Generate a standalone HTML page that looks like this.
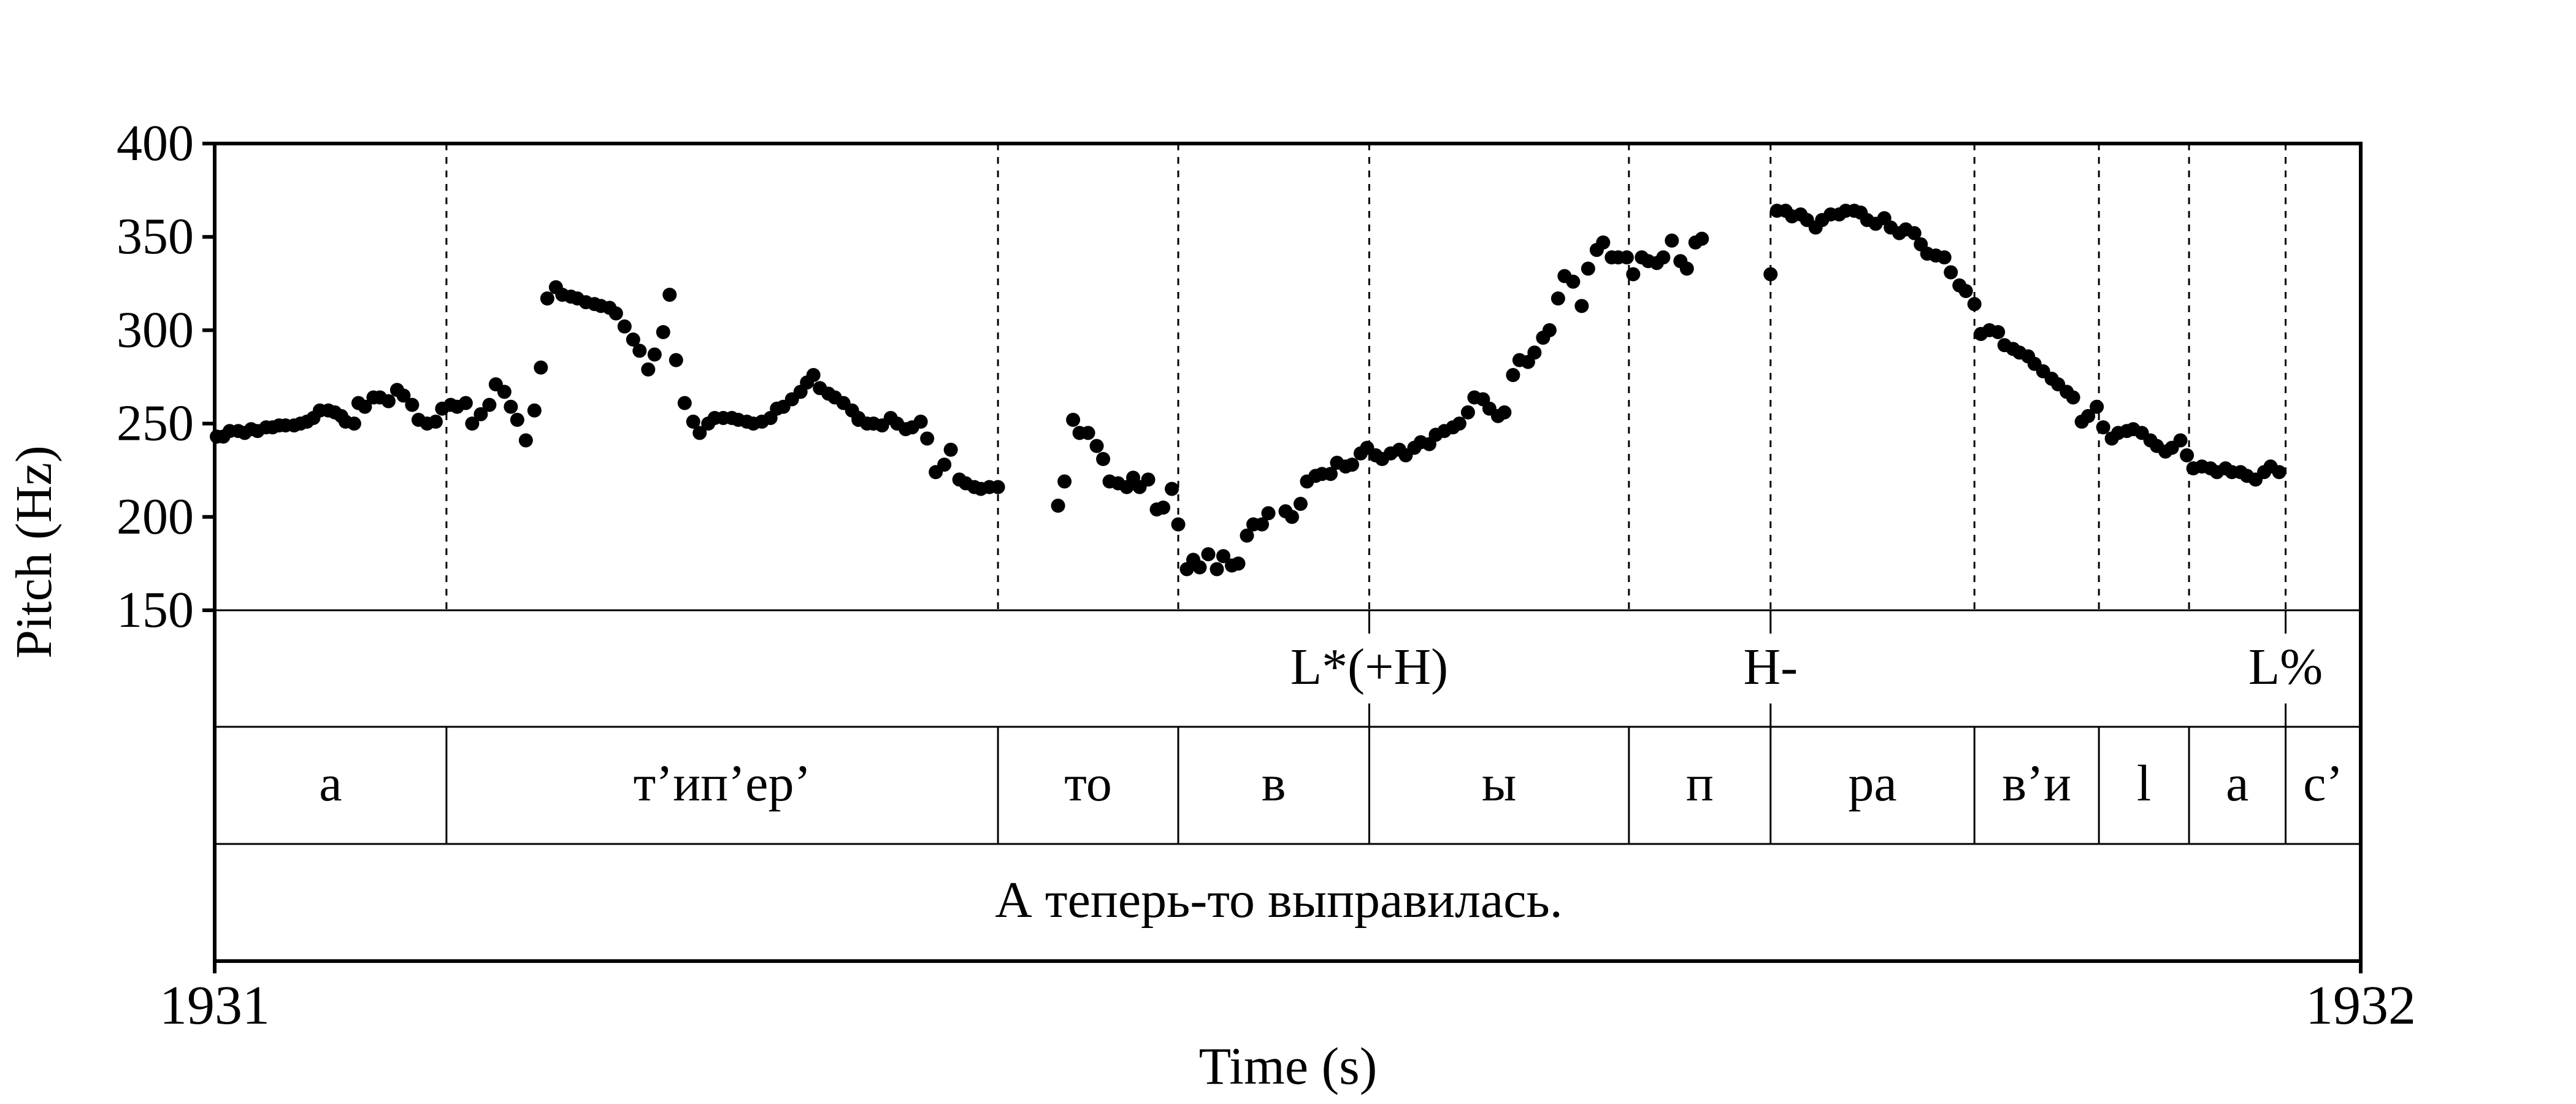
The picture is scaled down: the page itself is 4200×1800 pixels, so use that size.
<!DOCTYPE html>
<html><head><meta charset="utf-8">
<style>
html,body{margin:0;padding:0;background:#fff;}
svg{display:block;}
text{font-family:"Liberation Serif","Noto Serif CJK SC",serif;fill:#000;}
</style></head>
<body>
<svg id="chart" width="4200" height="1800" viewBox="0 0 4200 1800" xmlns="http://www.w3.org/2000/svg">
<rect x="0" y="0" width="4200" height="1800" fill="#fff"/>
</svg>
<script>
// pitch samples: time (ms after 1931 s) and Hz
const times = [1,4,7,11,14,17,20,24,27,30,33,37,40,43,46,49,53,56,59,61,65,67,70,74,77,81,85,88,92,95,99,103,106,110,113,117,120,124,128,131,135,138,141,145,149,152,155,159,162,166,169,173,177,180,184,187,191,195,198,202,205,209,212,215,219,223,226,230,233,237,241,244,248,251,255,259,262,265,269,273,276,279,282,286,289,293,297,300,
300,304,307,311,315,318,322,325,329,332,336,340,343,347,350,354,357,361,365,
393,396,400,403,407,411,414,417,421,425,428,431,435,439,442,446,449,453,456,459,463,467,470,474,477,481,484,488,491,499,502,506,509,513,516,520,523,527,530,534,537,541,544,548,552,555,559,562,566,569,573,577,580,584,587,591,594,598,601,605,608,612,615,619,622,626,629,633,637,640,644,647,651,654,658,661,665,668,672,675,679,683,686,690,693,
725,728,732,735,739,742,746,749,753,757,760,764,767,770,774,778,781,785,788,792,795,798,802,806,809,813,816,820,823,827,831,834,838,841,845,848,852,856,859,863,866,870,873,877,880,884,887,891,894,898,902,905,909,912,916,919,922,926,930,933,937,940,944,947,951,955,958,962];
const pitches = [243,243,246,246,245,247,246,248,248,249,249,249,250,251,253,257,257,256,254,251,250,261,259,264,264,262,268,265,260,252,250,251,258,260,259,261,250,255,260,271,267,259,252,241,257,280,317,323,319,318,317,315,314,313,312,309,302,295,289,279,287,299,319,284,261,251,245,250,253,253,253,252,251,250,251,253,258,259,263,267,272,276,269,266,264,261,257,252,
253,250,250,249,253,250,247,248,251,242,224,228,236,220,218,216,215,216,216,
206,219,252,245,245,238,231,219,218,216,221,216,220,204,205,215,196,172,177,173,180,172,179,174,175,190,196,196,202,203,200,207,219,222,223,223,229,227,228,234,237,233,231,234,236,233,237,240,239,244,246,248,250,256,264,263,258,254,256,276,284,283,288,296,300,317,329,326,313,333,343,347,339,339,339,330,339,337,336,339,348,337,333,347,349,
330,364,364,361,362,359,355,359,362,362,364,364,363,359,357,360,355,352,354,352,346,341,340,339,331,324,321,314,298,300,299,292,290,288,286,282,278,274,271,267,264,251,254,259,248,242,245,246,247,245,241,238,235,237,241,233,226,227,226,224,226,224,224,222,220,224,227,224];
const yTicks = [150,200,250,300,350,400];
const xTickLabels = ["1931","1932"];
const boundaries = [108,365,449,538,659,725,820,878,920,965];
const segLabels = ["а","т’ип’ер’","то","в","ы","п","ра","в’и","l","а","с’"];
const toneTimes = [538,725,965];
const toneLabels = ["L*(+H)","H-","L%"];
const sentence = "А теперь-то выправилась.";

const NS="http://www.w3.org/2000/svg";
const svg=document.getElementById('chart');
const X0=350,X1=3849,YT=234,YB=995,T1=1185,T2=1376,T3=1567;
const xs=ms=>X0+(X1-X0)*ms/1000;
const ys=hz=>YB-(YB-YT)*(hz-150)/250;
function mk(tag,attrs,txt){const e=document.createElementNS(NS,tag);for(const k in attrs)e.setAttribute(k,attrs[k]);if(txt!==undefined)e.textContent=txt;svg.appendChild(e);return e;}

// dotted boundaries in pitch panel
boundaries.forEach(b=>{
  const l=mk('line',{x1:xs(b),x2:xs(b),y1:YT,y2:YB,stroke:'#000','stroke-width':3,'stroke-dasharray':'11,11'});
  
  
});
// points
times.forEach((t,i)=>{
  const c=mk('circle',{cx:xs(t),cy:ys(pitches[i]),r:11.5,fill:'#000'});
  
  
});
// tier lines
[[YB,3],[T1,3],[T2,3]].forEach(([y,w])=>{
  const l=mk('line',{x1:X0,x2:X1,y1:y,y2:y,stroke:'#000','stroke-width':w});
  
  
});
// frame
const fr=mk('path',{d:`M${X0} 1587 V${YT} H${X1} V1587 M${X0} ${T3} H${X1}`,fill:'none',stroke:'#000','stroke-width':6});


// y ticks
yTicks.forEach(v=>{
  const t=mk('line',{x1:330,x2:X0,y1:ys(v),y2:ys(v),stroke:'#000','stroke-width':6});
  
  
  const l=mk('text',{x:316,y:ys(v)+27,'text-anchor':'end','font-size':84},String(v));
  
  
});
// y axis title
const yt=mk('text',{x:0,y:0,'text-anchor':'middle','font-size':84,transform:'translate(83,900) rotate(-90)'},'Pitch (Hz)');


// tone tier
toneTimes.forEach((t,i)=>{
  const x=xs(t);
  const a=mk('line',{x1:x,x2:x,y1:YB,y2:1033,stroke:'#000','stroke-width':3});
  
  
  const b=mk('line',{x1:x,x2:x,y1:1147,y2:T1,stroke:'#000','stroke-width':3});
  
  
  const l=mk('text',{x:x,y:1115,'text-anchor':'middle','font-size':84},toneLabels[i]);
  
  
});
// segment tier
const edges=[0,...boundaries,1000];
boundaries.forEach(b=>{
  const l=mk('line',{x1:xs(b),x2:xs(b),y1:T1,y2:T2,stroke:'#000','stroke-width':3});
  
  
});
segLabels.forEach((s,i)=>{
  const l=mk('text',{x:(xs(edges[i])+xs(edges[i+1]))/2,y:1305,'text-anchor':'middle','font-size':84},s);
  
  
});
// sentence tier
const st=mk('text',{x:2085,y:1495,'text-anchor':'middle','font-size':84},sentence);


// x tick labels
xTickLabels.forEach((s,i)=>{
  const l=mk('text',{x:i?X1:X0,y:1669,'text-anchor':'middle','font-size':90},s);
  
  
});
const xt=mk('text',{x:2100,y:1767,'text-anchor':'middle','font-size':86},'Time (s)');


</script>
</body></html>
